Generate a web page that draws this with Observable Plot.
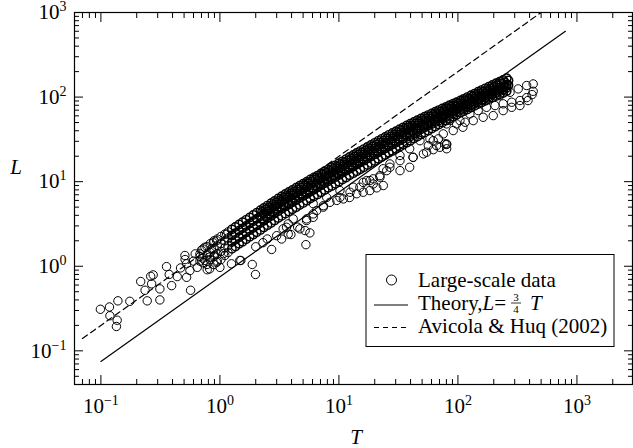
<!DOCTYPE html>
<html><head><meta charset="utf-8">
<script src="https://cdn.jsdelivr.net/npm/d3@7"></script>
<script src="https://cdn.jsdelivr.net/npm/@observablehq/plot@0.6"></script>
<style>
html,body{margin:0;padding:0;background:#fff;}
#chart{position:relative;width:633px;height:448px;}
#chart svg, #chart svg text, #chart svg tspan{font-family:"Liberation Serif", "Times New Roman", serif !important;}
</style></head><body><div id="chart"></div>
<script>
// ---- Tick values and labels ----
const xMajor = [0.1, 1, 10, 100, 1000];
const xMajorLabels = ["10^−1", "10^0", "10^1", "10^2", "10^3"];
const yMajor = [0.1, 1, 10, 100, 1000];
const yMajorLabels = ["10^−1", "10^0", "10^1", "10^2", "10^3"];
const xMinor = [0.06,0.07,0.08,0.09,0.2,0.3,0.4,0.5,0.6,0.7,0.8,0.9,2,3,4,5,6,7,8,9,20,30,40,50,60,70,80,90,200,300,400,500,600,700,800,900,2000];
const yMinor = [0.05,0.06,0.07,0.08,0.09,0.2,0.3,0.4,0.5,0.6,0.7,0.8,0.9,2,3,4,5,6,7,8,9,20,30,40,50,60,70,80,90,200,300,400,500,600,700,800,900];

// ---- Reference lines ----
const theoryT = [0.1, 800];
const theoryL = [0.075, 600];
const avicolaT = [0.07, 500];
const avicolaL = [0.14, 1000];

// ---- Large-scale data: dense band (T values with several L tracks) ----
const bandT = [1.26,1.35,1.45,1.55,1.66,1.78,1.91,2.04,2.19,2.34,2.51,2.69,2.88,3.09,
 3.31,3.55,3.80,4.07,4.37,4.68,5.01,5.37,5.75,6.17,6.61,7.08,7.59,8.13,8.71,9.33,10.0,
 10.7,11.5,12.3,13.2,14.1,15.1,16.2,17.4,18.6,20.0,21.4,22.9,24.5,26.3,28.2,30.2,
 32.4,34.7,37.2,39.8,42.7,45.7,49.0,52.5,56.2,60.3,64.6,69.2,74.1,79.4,85.1,91.2,97.7,
 105,112,120,129,138,148,158,170,182,195,209,224,240,257];
const bandL1 = [2.73,2.92,3.12,3.32,3.54,3.78,4.05,4.30,4.60,4.89,5.22,5.57,5.93,6.33,
 6.72,7.14,7.56,7.98,8.48,8.94,9.47,10.0,10.6,11.2,11.8,12.5,13.3,14.0,14.8,15.6,16.5,
 17.4,18.5,19.6,20.7,21.8,23.0,24.3,25.8,27.2,28.8,30.4,32.1,33.8,35.8,37.6,39.6,
 41.8,43.9,46.1,48.4,50.8,53.3,55.9,58.5,61.3,64.2,67.2,70.2,73.4,76.5,80.0,83.4,87.0,
 91.1,95.3,100,105,110,116,121,127,133,139,146,152,159,167];
const bandL2 = [2.31,2.46,2.64,2.81,3.00,3.20,3.42,3.65,3.90,4.17,4.44,4.73,5.07,5.41,
 5.76,6.11,6.46,6.84,7.25,7.68,8.12,8.59,9.09,9.63,10.2,10.8,11.4,12.0,12.7,13.4,14.2,
 15.0,15.9,16.8,17.8,18.7,19.8,20.9,22.1,23.4,24.8,26.1,27.5,28.9,30.8,32.4,34.1,
 36.0,37.9,39.9,41.9,44.0,46.2,48.5,50.9,53.4,56.1,58.8,61.5,64.3,67.3,70.5,73.6,76.9,
 80.6,84.1,88.1,92.5,96.6,101,105,110,115,120,125,130,135,141];
const bandL3 = [1.93,2.05,2.20,2.34,2.51,2.67,2.85,3.04,3.24,3.46,3.69,3.93,4.20,4.48,
 4.77,5.08,5.36,5.70,6.03,6.41,6.76,7.14,7.59,8.02,8.53,9.06,9.56,10.1,10.7,11.3,12.0,
 12.7,13.5,14.2,15.0,15.9,16.8,17.7,18.8,19.8,21.0,22.1,23.4,24.6,26.0,27.5,29.0,
 30.6,32.2,33.9,35.7,37.6,39.5,41.5,43.6,45.8,48.2,50.6,53.0,55.6,58.3,61.1,63.8,66.9,
 70.5,73.6,77.3,81.3,85.1,89.2,93.2,98.1,102,107,112,117,122,129];
const bandL4 = [1.61,1.71,1.84,1.95,2.09,2.23,2.37,2.53,2.69,2.88,3.06,3.25,3.48,3.71,
 3.94,4.19,4.45,4.72,4.98,5.29,5.61,5.96,6.33,6.66,7.07,7.50,7.97,8.46,8.88,9.42,10.0,
 10.6,11.2,11.9,12.6,13.3,14.0,14.8,15.7,16.6,17.6,18.6,19.6,20.7,21.9,23.1,24.4,
 25.8,27.3,28.9,30.5,32.3,34.1,36.0,38.1,40.2,42.5,44.9,47.3,49.9,52.7,55.7,58.7,61.8,
 65.1,68.2,71.5,75.2,78.7,82.6,86.1,90.4,94.6,98.9,103,108,112,118];
// second, offset grid for the densest upper part of the band
const bandT2 = [2.26,2.43,2.60,2.79,2.99,3.20,3.43,3.67,3.94,4.22,4.52,4.84,5.19,5.56,5.96,6.38,
 6.84,7.33,7.85,8.41,9.02,9.66,10.35,11.1,11.9,12.7,13.6,14.6,15.7,16.8,18.0,19.3,20.7,22.1,
 23.7,25.4,27.2,29.2,31.3,33.5,35.9,38.5,41.2,44.2,47.3,50.7,54.3,58.2,62.4,66.8,71.6,76.7,
 82.2,88.1,94.4,101,108,116,124,133,143,153,164,176,188,202,216,232,248,266];
const bandM1 = [4.39,4.67,4.98,5.32,5.67,6.05,6.42,6.80,7.20,7.62,8.08,8.53,9.03,9.55,10.1,10.7,
 11.3,12.0,12.7,13.4,14.1,14.9,15.8,16.7,17.7,18.7,19.7,20.8,22.0,23.2,24.6,26.0,27.5,29.0,
 30.5,32.3,34.1,35.9,37.8,39.9,41.9,44.0,46.2,48.5,50.9,53.4,56.0,58.7,61.5,64.4,67.3,70.4,
 73.5,76.8,80.2,83.8,87.6,91.7,96.3,101,106,111,116,121,127,132,138,144,150,157];
const bandM2 = [3.68,3.93,4.19,4.47,4.78,5.09,5.42,5.74,6.08,6.44,6.83,7.22,7.63,8.09,8.56,9.08,
 9.63,10.2,10.8,11.4,12.0,12.7,13.5,14.3,15.1,15.9,16.9,17.8,18.8,19.9,21.0,22.2,23.5,24.8,
 26.1,27.5,29.2,30.7,32.4,34.1,35.9,37.8,39.8,41.8,43.9,46.1,48.4,50.8,53.4,55.9,58.6,61.3,
 64.2,67.2,70.3,73.7,77.1,80.7,84.7,88.8,92.9,97.1,102,106,111,116,121,126,132,138];

// ---- Large-scale data: scattered points [T, L] ----
const lowPoints = [[0.099,0.31],[0.118,0.33],[0.119,0.26],[0.139,0.39],[0.137,0.23],[0.135,0.194],
 [0.175,0.385],[0.216,0.66],[0.235,0.52],[0.245,0.39],[0.267,0.62],[0.275,0.79],[0.262,0.76],
 [0.313,0.54],[0.313,0.40],[0.356,0.99],[0.375,0.80],[0.393,0.59],[0.438,0.755],[0.467,0.955],
 [0.508,1.34],[0.51,1.2],[0.525,1.07],[0.525,0.74],[0.567,0.52],[0.56,0.89],[0.6,1.15],[0.62,1.4],
 [0.645,0.97],[0.68,1.30],[0.7,1.55],[0.72,1.1],[0.748,1.68],[0.75,1.17],[0.782,0.91],[0.82,1.28],
 [0.82,0.93],[0.85,1.6],[0.88,1.9],[0.9,1.35],[0.94,2.0],[0.94,1.11],[1.0,0.97],[1.07,1.41],
 [1.1,1.34],[1.14,2.4],[1.25,1.07],[1.5,1.17]];
const bandStartPoints = [[0.68,1.4],[0.68,1.15],[0.72,1.6],[0.72,1.25],[0.78,1.7],[0.78,1.35],
 [0.78,1.05],[0.83,1.85],[0.83,1.45],[0.83,1.2],[0.89,2.0],[0.89,1.6],[0.89,1.3],[0.89,1.05],
 [0.95,2.1],[0.95,1.75],[0.95,1.4],[0.95,1.15],[1.02,2.25],[1.02,1.85],[1.02,1.5],[1.02,1.2],
 [1.1,2.4],[1.1,2.0],[1.1,1.65],[1.17,2.55],[1.17,2.15],[1.17,1.75],[1.17,1.45]];
const midPoints = [[1.87,1.05],[1.99,0.80],[2.72,1.58],[5.28,1.8],[5.7,2.48],[5.2,2.64],[3.3,2.1],
 [3.95,2.37],[3.75,2.4],[3.4,2.77],[3.75,3.17],[2.3,1.9],[2.0,1.7],[2.5,2.1],[3.0,2.3],[1.47,1.17],
 [4.5,2.9],[3.63,2.89],[4.13,3.63],[4.7,2.77],[5.35,3.47],[6.08,3.79],[6.5,4.55],[7.4,5.2],[8.4,5.7],
 [9.6,6.0],[10.9,6.25],[12.3,6.5],[14.1,7.2],[16.0,7.5],[18.2,7.85],[20.8,8.45],[23.6,9.0],
 [6.08,5.5],[7.9,6.5],[10.2,7.85],[13.2,8.6],[16.0,9.8],[19.4,10.8],[22.1,11.8],[25.2,13.5],
 [18.2,10.3],[22.1,11.3],[26.8,14.8],[32.6,13.5],[39.3,14.8],[42.0,19.4],[51.3,21.3],[56.4,26.7],
 [66.2,26.7],[80.4,27.9],[68.5,32.1],[58.2,32.1],[48,30.5],[39.3,24.5],[32.6,20.4],[91.3,40.2],
 [110,44],[104,52.8],[85.6,52.8],[70.9,50.5],[58.2,48.3],[19.4,9.4],[62,30.5],[75.3,36.7],
 [77.7,28],[80.4,24.5]];
const lowestBranch = [[5.35,3.63],[6.08,4.16],[7.4,5.0],[10.2,6.5],[12.4,7.5],[15,8.6],[17.1,10.3],
 [23.5,14.2],[26.8,16.2],[32.6,17.7],[42,19.4],[54.6,22.3],[62.1,23.9],[70.6,25.5],[80.4,27.5]];
const branchA = [[118,75.7],[134.5,83.2],[158,91],[186,99.5],[225,104],[274,114],[321,125],
 [378,137],[429,143],[429,117]];
const branchB = [[126,63.3],[148,69.2],[174,75.7],[205,79.4],[240,83.2],[283,86.9],[332,91],
 [378,98.6],[420,107]];
const branchC = [[80.4,48.2],[97.5,48.2],[115,50.4],[134.5,52.7],[163,57.7],[198,60.4],[240,69.2],
 [283,75.7],[332,79.4],[388,91]];

// ---- Assemble ----
const bandPoints = [];
for (const tr of [bandL1, bandL2, bandL3, bandL4]) bandT.forEach((t, i) => bandPoints.push({T: t, L: tr[i]}));
for (const tr of [bandM1, bandM2]) bandT2.forEach((t, i) => bandPoints.push({T: t, L: tr[i]}));
const otherPoints = [];
for (const set of [lowPoints, bandStartPoints, midPoints, lowestBranch, branchA, branchB, branchC])
  set.forEach(([t, l]) => otherPoints.push({T: t, L: l}));
const theory = theoryT.map((t, i) => ({T: t, L: theoryL[i]}));
const avicola = avicolaT.map((t, i) => ({T: t, L: avicolaL[i]}));

const xLab = d => xMajorLabels[xMajor.indexOf(d)] ?? "";
const yLab = d => yMajorLabels[yMajor.indexOf(d)] ?? "";
const blank = () => "";

const chart = Plot.plot({
  width: 633, height: 448,
  marginLeft: 74, marginRight: 1, marginTop: 12, marginBottom: 64,
  x: {type: "log", domain: [0.06, 2930], label: null},
  y: {type: "log", domain: [0.04, 1000], label: null},
  style: {fontFamily: "Liberation Serif", fontSize: "21px", color: "black", background: "white", overflow: "visible"},
  marks: [
    Plot.dot(otherPoints, {x: "T", y: "L", r: 4.2, stroke: "black", strokeWidth: 1, fill: "none"}),
    Plot.dot(bandPoints, {x: "T", y: "L", r: 4.2, stroke: "black", strokeWidth: 1.45, fill: "none"}),
    Plot.line(theory, {x: "T", y: "L", stroke: "black", strokeWidth: 1.2}),
    Plot.line(avicola, {x: "T", y: "L", stroke: "black", strokeWidth: 1.2, strokeDasharray: "6,4"}),
    Plot.frame({stroke: "black", strokeWidth: 1.2}),
    Plot.axisX({anchor: "bottom", ticks: xMajor, tickSize: 0, tickPadding: 14, tickFormat: xLab, label: null}),
    Plot.axisX({anchor: "bottom", ticks: xMajor, tickSize: -9, tickFormat: blank, label: null}),
    Plot.axisX({anchor: "bottom", ticks: xMinor, tickSize: -5, tickFormat: blank, label: null}),
    Plot.axisX({anchor: "top", ticks: xMajor, tickSize: -9, tickFormat: blank, label: null}),
    Plot.axisX({anchor: "top", ticks: xMinor, tickSize: -5, tickFormat: blank, label: null}),
    Plot.axisY({anchor: "left", ticks: yMajor, tickSize: 0, tickPadding: 8, tickFormat: yLab, label: null}),
    Plot.axisY({anchor: "left", ticks: yMajor, tickSize: -9, tickFormat: blank, label: null}),
    Plot.axisY({anchor: "left", ticks: yMinor, tickSize: -5, tickFormat: blank, label: null}),
    Plot.axisY({anchor: "right", ticks: yMajor, tickSize: -9, tickFormat: blank, label: null}),
    Plot.axisY({anchor: "right", ticks: yMinor, tickSize: -5, tickFormat: blank, label: null})
  ]
});
chart.setAttribute("font-family", "Liberation Serif");
document.getElementById("chart").append(chart);

// superscript exponents on tick labels
const svg = d3.select(chart);
svg.selectAll("text").each(function() {
  const s = this.textContent;
  if (!s.includes("^")) return;
  const [base, exp] = s.split("^");
  const el = d3.select(this);
  el.text(null);
  el.append("tspan").text(base);
  el.append("tspan").attr("dy", -8).attr("font-size", 14).text(exp);
});

// axis titles
svg.append("text").attr("x", 16).attr("y", 174).attr("text-anchor", "middle")
  .attr("font-style", "italic").attr("font-size", 21).text("L");
svg.append("text").attr("x", 356).attr("y", 444).attr("text-anchor", "middle")
  .attr("font-style", "italic").attr("font-size", 21).text("T");

// legend
const lg = svg.append("g").attr("font-size", 21).attr("text-anchor", "start");
lg.append("rect").attr("x", 366).attr("y", 254.5).attr("width", 248).attr("height", 92)
  .attr("fill", "white").attr("stroke", "black").attr("stroke-width", 1);
lg.append("circle").attr("cx", 391.5).attr("cy", 280).attr("r", 5).attr("fill", "none").attr("stroke", "black");
lg.append("text").attr("x", 418).attr("y", 286.5).text("Large-scale data");
lg.append("line").attr("x1", 374).attr("x2", 408).attr("y1", 305).attr("y2", 305).attr("stroke", "black").attr("stroke-width", 1.2);
const th = lg.append("text").attr("x", 418).attr("y", 309.5);
th.append("tspan").text("Theory,");
th.append("tspan").attr("font-style", "italic").text("L");
th.append("tspan").text("=");
const thEnd = 418 + th.node().getComputedTextLength();
const fx = thEnd + 10;
lg.append("text").attr("x", fx).attr("y", 300.5).attr("font-size", 11).attr("text-anchor", "middle").text("3");
lg.append("line").attr("x1", fx - 5).attr("x2", fx + 5).attr("y1", 303).attr("y2", 303).attr("stroke", "black").attr("stroke-width", 0.8);
lg.append("text").attr("x", fx).attr("y", 313).attr("font-size", 11).attr("text-anchor", "middle").text("4");
lg.append("text").attr("x", fx + 14).attr("y", 309.5).attr("font-style", "italic").text("T");
lg.append("line").attr("x1", 374).attr("x2", 408).attr("y1", 327.5).attr("y2", 327.5).attr("stroke", "black").attr("stroke-width", 1.2).attr("stroke-dasharray", "5,4");
lg.append("text").attr("x", 418).attr("y", 333).text("Avicola & Huq (2002)");
</script></body></html>
